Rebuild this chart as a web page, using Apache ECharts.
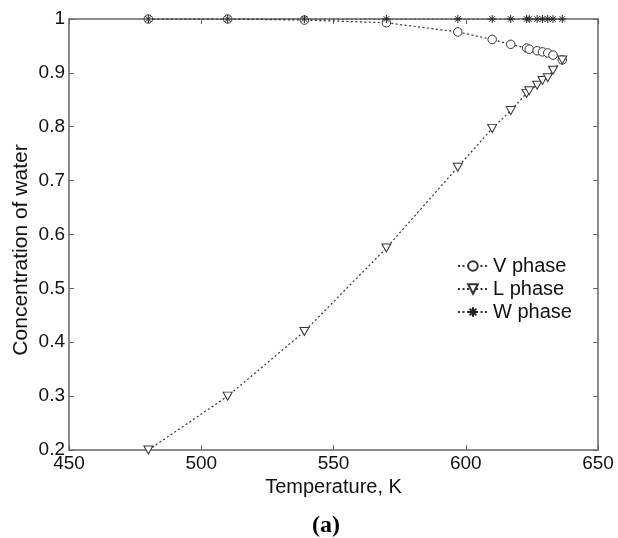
<!DOCTYPE html>
<html><head><meta charset="utf-8">
<script src="https://cdn.jsdelivr.net/npm/echarts@6/dist/echarts.min.js"></script>
<style>html,body{margin:0;padding:0;background:#fff}#c{width:618px;height:538px}</style>
</head><body><div id="c"></div>
<script>
const temps = [480, 510, 539, 570, 597, 610, 617, 623, 624, 627, 629, 631, 633, 636.5];
const vPhase = [1.0, 1.0, 0.998, 0.993, 0.976, 0.962, 0.953, 0.946, 0.944, 0.941, 0.939, 0.937, 0.933, 0.924];
const lPhase = [0.2, 0.30, 0.42, 0.575, 0.725, 0.797, 0.83, 0.862, 0.867, 0.877, 0.886, 0.891, 0.905, 0.924];
const wPhase = [1, 1, 1, 1, 1, 1, 1, 1, 1, 1, 1, 1, 1, 1];
const xTicks = [450, 500, 550, 600, 650];
const yTicks = [0.2, 0.3, 0.4, 0.5, 0.6, 0.7, 0.8, 0.9, 1];

const font = 'Liberation Sans, Arial, Helvetica, sans-serif';
const star = 'path://M5,0L5,10M0,5L10,5M1.5,1.5L8.5,8.5M1.5,8.5L8.5,1.5';
const tri = 'path://M0,0L10,0L5,8.7Z';
function pairs(ys){return temps.map((t,i)=>[t,ys[i]]);}
const lineStyle = {color:'#333', width:1.2, type:[2,2.5]};
const chart = echarts.init(document.getElementById('c'));
const axisCommon = {
  axisLine:{show:true, onZero:false, lineStyle:{color:'#666', width:1.5}},
  axisTick:{show:true, inside:true, length:5, lineStyle:{color:'#666'}},
  splitLine:{show:false}
};
chart.setOption({
  animation:false,
  title:{text:'(a)', left:321, top:509, textAlign:'center',
    textStyle:{fontFamily:'Liberation Serif, Times New Roman, serif', fontWeight:'bold', fontSize:24, color:'#000'}},
  graphic:[{type:'text', x:21, y:250, rotation:Math.PI/2,
    style:{text:'Concentration of water', fontFamily:font, fontSize:21, fill:'#111',
      textAlign:'center', textVerticalAlign:'middle'}}],
  grid:{left:69, right:20, top:19, bottom:88},
  legend:{
    orient:'vertical', left:452, top:251, itemGap:3, itemWidth:30, itemHeight:12,
    textStyle:{fontFamily:font, fontSize:20, color:'#111'},
    data:['V phase','L phase','W phase']
  },
  xAxis:[
    Object.assign({type:'value', min:450, max:650, interval:50, position:'bottom',
      name:'Temperature, K', nameLocation:'middle', nameGap:27,
      nameTextStyle:{fontFamily:font, fontSize:20, color:'#111'},
      axisLabel:{fontFamily:font, fontSize:19, color:'#111', margin:4,
        formatter:v=>xTicks.includes(v)?String(v):''}}, axisCommon),
    Object.assign({type:'value', min:450, max:650, interval:50, position:'top',
      axisLabel:{show:false}}, axisCommon)
  ],
  yAxis:[
    Object.assign({type:'value', min:0.2, max:1, interval:0.1, position:'left',
      axisLabel:{fontFamily:font, fontSize:19, color:'#111', margin:4,
        formatter:v=>{const r=Math.round(v*10)/10; return yTicks.includes(r)?(r===1?'1':r.toFixed(1)):'';}}}, axisCommon),
    Object.assign({type:'value', min:0.2, max:1, interval:0.1, position:'right',
      axisLabel:{show:false}}, axisCommon)
  ],
  series:[
    {name:'V phase', type:'line', data:pairs(vPhase), symbol:'circle', symbolSize:8.5,
      lineStyle:lineStyle, itemStyle:{color:'#fff', borderColor:'#333', borderWidth:1}, z:3},
    {name:'L phase', type:'line', data:pairs(lPhase), symbol:tri, symbolSize:[9,8],
      lineStyle:lineStyle, itemStyle:{color:'#fff', borderColor:'#333', borderWidth:1}, z:3},
    {name:'W phase', type:'line', data:pairs(wPhase), symbol:star, symbolSize:8,
      lineStyle:lineStyle, itemStyle:{color:'none', borderColor:'#222', borderWidth:1}, z:4}
  ]
});
</script></body></html>
